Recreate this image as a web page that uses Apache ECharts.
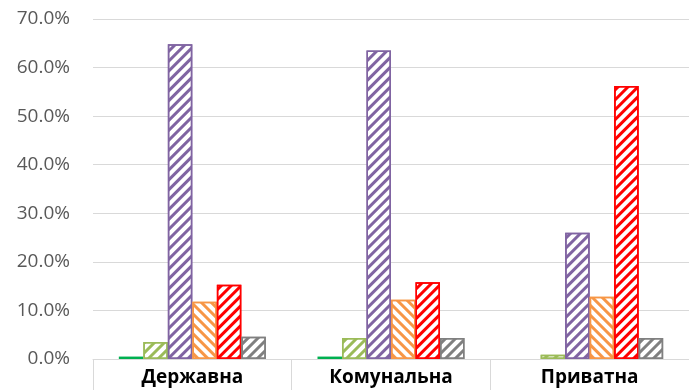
<!DOCTYPE html>
<html>
<head>
<meta charset="utf-8">
<script src="https://cdn.jsdelivr.net/npm/echarts@6/dist/echarts.min.js"></script>
<style>
html,body{margin:0;padding:0;background:#fff;}
#chart{width:689px;height:390px;}
</style>
</head>
<body>
<div id="chart"></div>
<script>
var categories = ['Державна', 'Комунальна', 'Приватна'];
var seriesNames = ['S1', 'S2', 'S3', 'S4', 'S5', 'S6'];
var s1 = [0.5, 0.5, 0.0];
var s2 = [3.5, 4.3, 0.9];
var s3 = [64.8, 63.5, 26.0];
var s4 = [11.8, 12.2, 12.8];
var s5 = [15.3, 15.8, 56.2];
var s6 = [4.6, 4.3, 4.3];
var yTicks = [0, 10, 20, 30, 40, 50, 60, 70];

var colors = ['#00B050', '#9BBB59', '#8064A2', '#F79646', '#FF0000', '#808080'];
var dirs = [0, -1, -1, 1, -1, -1];
var allData = [s1, s2, s3, s4, s5, s6];

var chart = echarts.init(document.getElementById('chart'), null, {renderer: 'canvas'});

var series = allData.map(function (d, i) {
  var s = {
    name: seriesNames[i],
    type: 'bar',
    data: d,
    barGap: '0%',
    barCategoryGap: '26%',
    itemStyle: {
      color: dirs[i] === 0 ? colors[i] : '#ffffff',
      borderColor: colors[i],
      borderWidth: dirs[i] === 0 ? 0 : 1.5
    }
  };
  if (dirs[i] !== 0) {
    s.itemStyle.decal = {
      symbol: 'rect',
      symbolSize: 1,
      dashArrayX: [1, 0],
      dashArrayY: [2.5, 4],
      rotation: dirs[i] * Math.PI / 4,
      color: colors[i]
    };
  }
  return s;
});

chart.setOption({
  animation: false,
  grid: {left: 93, right: 0, top: 19, bottom: 31, containLabel: false},
  xAxis: {
    type: 'category',
    data: categories,
    axisLine: {show: true, lineStyle: {color: '#D9D9D9', width: 1}},
    axisTick: {show: true, length: 31, lineStyle: {color: '#D9D9D9', width: 1}},
    axisLabel: {
      color: '#000000',
      fontWeight: 'bold',
      fontSize: 19,
      fontFamily: 'Open Sans, Liberation Sans, sans-serif',
      margin: 9
    }
  },
  yAxis: {
    type: 'value',
    min: yTicks[0],
    max: yTicks[yTicks.length - 1],
    interval: 10,
    axisLine: {show: false},
    axisTick: {show: false},
    splitLine: {lineStyle: {color: '#D9D9D9', width: 1}},
    axisLabel: {
      color: '#595959',
      fontSize: 19,
      fontFamily: 'Open Sans, Liberation Sans, sans-serif',
      margin: 23,
      formatter: function (v) { return v.toFixed(1) + '%'; }
    }
  },
  series: series
});
</script>
</body>
</html>
